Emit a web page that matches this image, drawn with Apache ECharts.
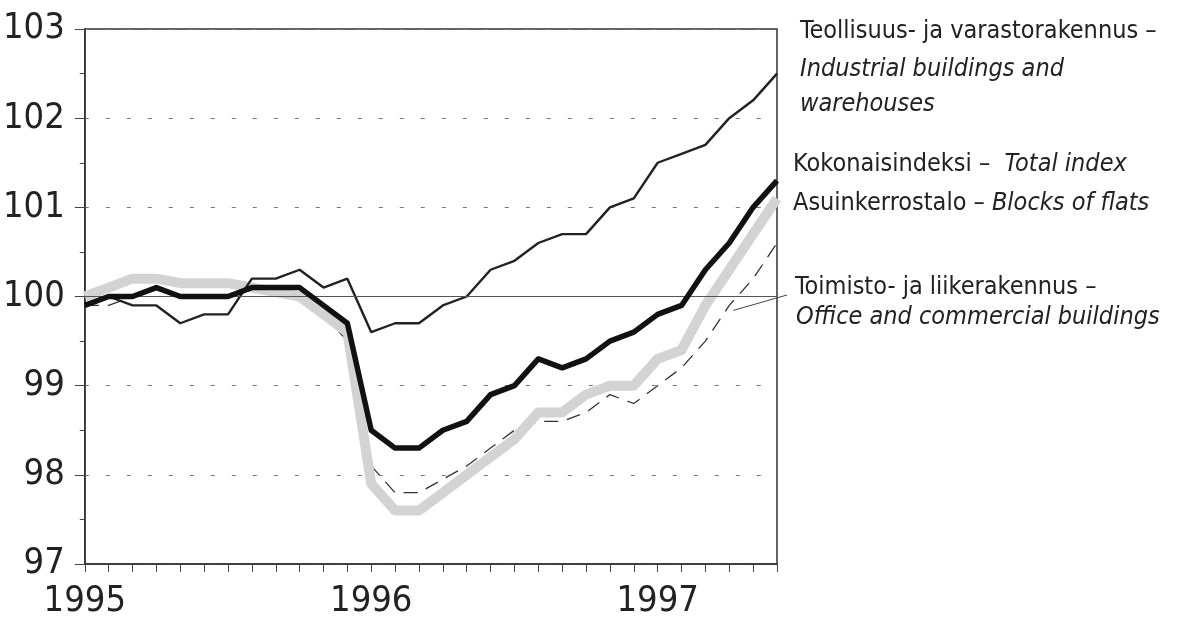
<!DOCTYPE html>
<html>
<head>
<meta charset="utf-8">
<script src="https://cdn.jsdelivr.net/npm/echarts@6/dist/echarts.min.js"></script>
<style>
  html, body { margin: 0; padding: 0; background: #fff; }
  #chart { width: 1179px; height: 620px; }
</style>
</head>
<body>
<div id="chart"></div>
<script>
// monthly, Jan 1995 - Jun 1997
const months = [
  "1995-01", "1995-02", "1995-03", "1995-04", "1995-05", "1995-06",
  "1995-07", "1995-08", "1995-09", "1995-10", "1995-11", "1995-12",
  "1996-01", "1996-02", "1996-03", "1996-04", "1996-05", "1996-06",
  "1996-07", "1996-08", "1996-09", "1996-10", "1996-11", "1996-12",
  "1997-01", "1997-02", "1997-03", "1997-04", "1997-05", "1997-06"
];
const yearLabels = ["1995", "1996", "1997"];
const yTicks = [97, 98, 99, 100, 101, 102, 103];

// Teollisuus- ja varastorakennus
const industrial = [99.9, 100.0, 99.9, 99.9, 99.7, 99.8, 99.8, 100.2, 100.2, 100.3, 100.1, 100.2,
  99.6, 99.7, 99.7, 99.9, 100.0, 100.3, 100.4, 100.6, 100.7, 100.7, 101.0, 101.1,
  101.5, 101.6, 101.7, 102.0, 102.2, 102.5];
// Kokonaisindeksi
const total = [99.9, 100.0, 100.0, 100.1, 100.0, 100.0, 100.0, 100.1, 100.1, 100.1, 99.9, 99.7,
  98.5, 98.3, 98.3, 98.5, 98.6, 98.9, 99.0, 99.3, 99.2, 99.3, 99.5, 99.6,
  99.8, 99.9, 100.3, 100.6, 101.0, 101.3];
// Asuinkerrostalo
const flats = [100.0, 100.1, 100.2, 100.2, 100.15, 100.15, 100.15, 100.1, 100.05, 100.0, 99.8, 99.6,
  97.9, 97.6, 97.6, 97.8, 98.0, 98.2, 98.4, 98.7, 98.7, 98.9, 99.0, 99.0,
  99.3, 99.4, 99.9, 100.3, 100.7, 101.1];
// Toimisto- ja liikerakennus
const office = [99.9, 99.9, 100.0, 100.1, 100.0, 100.0, 100.0, 100.1, 100.1, 100.0, 99.8, 99.5,
  98.1, 97.8, 97.8, 97.95, 98.1, 98.3, 98.5, 98.6, 98.6, 98.7, 98.9, 98.8,
  99.0, 99.2, 99.5, 99.9, 100.2, 100.6];

const FONT = "'Liberation Sans Narrow', 'DejaVu Sans Condensed', sans-serif";
const INK = "#222";

const myChart = echarts.init(document.getElementById("chart"));

const option = {
  animation: false,
  backgroundColor: "#fff",
  grid: {
    left: 82, right: 402, top: 29, bottom: 56,
    show: true, borderColor: "#333", borderWidth: 1.5, backgroundColor: "transparent"
  },
  xAxis: {
    type: "category",
    data: months,
    boundaryGap: false,
    axisLine: { lineStyle: { color: "#333", width: 1.5 } },
    axisTick: { show: true, interval: 0, length: 8, lineStyle: { color: "#444", width: 1 } },
    axisLabel: {
      interval: 0,
      margin: 20,
      fontSize: 36,
      fontFamily: FONT,
      color: INK,
      formatter: function (v) {
        const y = v.slice(0, 4);
        return v.endsWith("-01") && yearLabels.indexOf(y) >= 0 ? y : "";
      }
    },
    splitLine: { show: false }
  },
  yAxis: {
    type: "value",
    min: yTicks[0],
    max: yTicks[yTicks.length - 1],
    interval: 1,
    axisLine: { show: true, lineStyle: { color: "#333", width: 1.5 } },
    axisTick: { show: true, length: 10, lineStyle: { color: "#444" } },
    minorTick: { show: true, splitNumber: 2, length: 5, lineStyle: { color: "#444" } },
    axisLabel: { margin: 20, fontSize: 36, fontFamily: FONT, color: INK },
    splitLine: {
      show: true,
      lineStyle: { color: "#777", type: [4, 17], width: 1 }
    }
  },
  series: [
    {
      name: "Toimisto- ja liikerakennus",
      type: "line",
      data: office,
      symbol: "none",
      z: 2,
      lineStyle: { color: "#333", width: 1.3, type: [14, 9] },
      markLine: {
        silent: true,
        symbol: "none",
        label: { show: false },
        lineStyle: { color: "#555", width: 1, type: "solid" },
        data: [{ yAxis: 100 }]
      }
    },
    {
      name: "Asuinkerrostalo",
      type: "line",
      data: flats,
      symbol: "none",
      z: 3,
      lineStyle: { color: "#d3d3d3", width: 10, join: "round" }
    },
    {
      name: "Teollisuus- ja varastorakennus",
      type: "line",
      data: industrial,
      symbol: "none",
      z: 4,
      lineStyle: { color: "#222", width: 2.4 }
    },
    {
      name: "Kokonaisindeksi",
      type: "line",
      data: total,
      symbol: "none",
      z: 5,
      lineStyle: { color: "#111", width: 5.5, join: "round" }
    }
  ]
};

myChart.setOption(option);

// labels on the right
const lbl = (x, y, text, rich) => ({
  type: "text",
  left: x, top: y,
  style: {
    text: text,
    fill: INK,
    font: "25px " + FONT,
    rich: rich || {}
  }
});
const it = { fontStyle: "italic", fontSize: 25, fontFamily: FONT, fill: INK };

// leader line from office label to its curve
const p0 = myChart.convertToPixel({ gridIndex: 0 }, [27, office[27]]);

myChart.setOption({
  graphic: [
    lbl(800, 19, "Teollisuus- ja varastorakennus –"),
    lbl(800, 57, "{i|Industrial buildings and}", { i: it }),
    lbl(800, 92, "{i|warehouses}", { i: it }),
    lbl(793, 152, "Kokonaisindeksi –  {i|Total index}", { i: it }),
    lbl(793, 191, "Asuinkerrostalo – {i|Blocks of flats}", { i: it }),
    lbl(795, 275, "Toimisto- ja liikerakennus –"),
    lbl(796, 305, "{i|Office and commercial buildings}", { i: it }),
    {
      type: "line",
      shape: { x1: p0[0] + 4, y1: p0[1] + 5, x2: 787, y2: 295 },
      style: { stroke: "#444", lineWidth: 1 }
    }
  ]
});
</script>
</body>
</html>
